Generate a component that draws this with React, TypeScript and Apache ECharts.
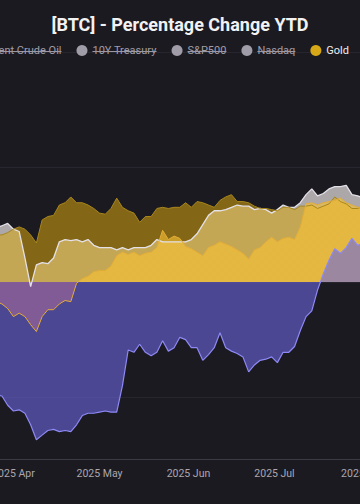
import React, { useEffect, useRef } from 'react';
import * as echarts from 'echarts';

// Sample dates (every second day)
const dates = [
  '2025-03-26','2025-03-28','2025-03-30','2025-04-01','2025-04-03','2025-04-05','2025-04-07','2025-04-09','2025-04-11','2025-04-13',
  '2025-04-15','2025-04-17','2025-04-19','2025-04-21','2025-04-23','2025-04-25','2025-04-27','2025-04-29','2025-05-01','2025-05-03',
  '2025-05-05','2025-05-07','2025-05-09','2025-05-11','2025-05-13','2025-05-15','2025-05-17','2025-05-19','2025-05-21','2025-05-23',
  '2025-05-25','2025-05-27','2025-05-29','2025-05-31','2025-06-02','2025-06-04','2025-06-06','2025-06-08','2025-06-10','2025-06-12',
  '2025-06-14','2025-06-16','2025-06-18','2025-06-20','2025-06-22','2025-06-24','2025-06-26','2025-06-28','2025-06-30','2025-07-02',
  '2025-07-04','2025-07-06','2025-07-08','2025-07-10','2025-07-12','2025-07-14','2025-07-16','2025-07-18','2025-07-20','2025-07-22',
  '2025-07-24','2025-07-26','2025-07-28','2025-07-30','2025-08-01',
];

// Percentage change YTD (%)
const ethValues = [
  -39.2,-39.6,-42.8,-44.8,-44.4,-45.6,-49.6,-54.8,-53.2,-51.6,
  -51.2,-52.0,-51.6,-52.0,-49.6,-46.4,-45.6,-45.6,-45.2,-44.8,
  -45.2,-45.2,-36.0,-23.6,-24.4,-21.6,-24.4,-25.6,-24.4,-20.4,
  -24.0,-22.8,-19.2,-20.0,-22.8,-22.8,-27.2,-25.2,-22.8,-17.6,
  -22.8,-24.0,-24.8,-26.0,-31.2,-28.8,-27.2,-26.8,-26.0,-28.0,
  -24.4,-24.4,-22.4,-16.8,-12.0,-10.0,-2.8,2.8,7.6,11.6,
  10.0,12.0,15.2,12.8,13.6,
];
const btcValues = [
  -6.8,-7.6,-9.2,-12.0,-10.8,-12.0,-14.8,-17.2,-12.0,-9.6,
  -9.6,-7.6,-6.4,-6.8,-0.4,1.2,2.0,3.6,4.0,4.0,
  5.6,9.2,10.4,9.6,10.4,9.2,10.0,10.4,12.0,18.0,
  14.8,16.0,15.2,12.4,11.6,10.4,9.2,12.0,12.8,14.0,
  13.2,12.4,11.2,10.0,8.0,11.2,12.0,14.0,15.6,14.0,
  15.2,15.6,14.8,19.2,27.2,27.6,26.8,27.6,28.0,28.4,
  29.2,27.6,26.8,26.0,26.0,
];
const goldValues = [
  16.4,16.4,17.2,18.4,19.2,18.4,16.4,13.6,21.6,22.8,
  23.2,26.8,27.6,29.6,27.6,27.6,26.8,25.6,24.0,23.6,
  25.6,29.2,26.0,24.8,24.0,20.8,22.8,22.8,25.6,26.0,
  25.6,26.0,26.0,27.6,26.0,28.0,27.6,26.8,26.0,28.4,
  29.6,30.4,28.0,28.0,27.6,26.4,25.6,25.6,25.2,24.8,
  26.0,26.0,25.2,26.4,26.4,26.8,25.6,26.4,27.2,29.6,
  28.0,27.2,25.6,25.6,26.4,
];
const silverValues = [
  18.8,19.6,20.4,18.4,17.6,8.4,-1.6,6.0,6.8,6.4,
  8.4,14.0,14.8,14.4,14.8,14.0,14.8,12.8,12.0,12.0,
  12.0,11.2,12.0,11.2,12.0,12.0,12.0,12.8,14.8,14.0,
  14.0,14.0,14.0,14.0,14.8,16.8,20.0,23.2,24.8,24.8,
  25.2,26.0,26.8,26.4,26.4,25.2,25.6,25.2,24.0,25.2,
  26.8,26.0,26.0,27.6,30.4,32.4,30.0,30.8,32.4,33.2,
  33.2,33.6,30.4,30.0,29.2,
];

const legendNames = ['BTC', 'ETH', 'Silver', 'Brent Crude Oil', '10Y Treasury', 'S&P500', 'Nasdaq', 'Gold'];
const hiddenNames = ['Brent Crude Oil', '10Y Treasury', 'S&P500', 'Nasdaq'];
const yTickValues = [-40, 0, 40, 80];
const monthNames = ['Jan', 'Feb', 'Mar', 'Apr', 'May', 'Jun', 'Jul', 'Aug', 'Sep', 'Oct', 'Nov', 'Dec'];

const FONT = 'Roboto';
const BG = '#1c1a21';
const CHART_W = 960;
const LEGEND_RIGHT = 306;
const LEGEND_FONT = 11;
const LEGEND_ICON = 11;
const LEGEND_GAP = 15;
const LEGEND_TOP = 40;

export default function App() {
  const ref = useRef<HTMLDivElement>(null);

  useEffect(() => {
    if (!ref.current) return;
    const chart = echarts.init(ref.current, null, { renderer: 'svg' });
    const pairs = (vals: number[]) => dates.map((d, i) => [d, vals[i]]);

    const areaSeries = (id: string, vals: number[], color: string, lineColor: string, lineWidth: number, areaColor: any, areaOpacity: number) => ({
      id,
      name: id,
      type: 'line',
      data: pairs(vals),
      showSymbol: false,
      symbol: 'none',
      color,
      lineStyle: { color: lineColor, width: lineWidth },
      areaStyle: { color: areaColor, opacity: areaOpacity },
      emphasis: { disabled: true },
    });

    // strike-through marks for the switched-off legend entries, aligned with the legend's own layout
    const canvas = document.createElement('canvas');
    const ctx = canvas.getContext('2d')!;
    ctx.font = `${LEGEND_FONT}px ${FONT}`;
    const strikes: any[] = [];
    let rightEdge = CHART_W - LEGEND_RIGHT - 5;
    const strikeY = LEGEND_TOP + 5 + LEGEND_ICON / 2 + 1;
    for (let i = legendNames.length - 1; i >= 0; i--) {
      const name = legendNames[i];
      const tw = ctx.measureText(name).width;
      const itemW = LEGEND_ICON + 5 + tw;
      const start = rightEdge - itemW;
      if (hiddenNames.includes(name)) {
        strikes.push({
          type: 'line',
          silent: true,
          shape: { x1: start + LEGEND_ICON + 5, y1: strikeY, x2: rightEdge, y2: strikeY },
          style: { stroke: '#9a97a2', lineWidth: 1 },
          z: 100,
        });
      }
      rightEdge = start - LEGEND_GAP;
    }

    const selected: Record<string, boolean> = {};
    hiddenNames.forEach((n) => (selected[n] = false));

    chart.setOption({
      animation: false,
      backgroundColor: BG,
      textStyle: { fontFamily: FONT },
      title: {
        text: '[BTC] - Percentage Change YTD',
        left: 'center',
        top: 10,
        textStyle: { color: '#f2f2f4', fontSize: 18, fontWeight: 'bold', fontFamily: FONT },
      },
      legend: {
        data: legendNames,
        right: LEGEND_RIGHT,
        top: LEGEND_TOP,
        icon: 'circle',
        itemWidth: LEGEND_ICON,
        itemHeight: LEGEND_ICON,
        itemGap: LEGEND_GAP,
        selected,
        inactiveColor: '#a09da8',
        textStyle: { color: '#ececee', fontSize: LEGEND_FONT, fontFamily: FONT },
      },
      grid: { left: 224.5, right: 210.5, top: 52, bottom: 45 },
      xAxis: {
        type: 'time',
        min: '2025-03-01',
        max: '2025-08-31',
        minInterval: 32 * 86400000,
        axisLine: { onZero: false, lineStyle: { color: '#3b3941', width: 1 } },
        axisTick: { show: false },
        splitLine: { show: false },
        axisLabel: {
          color: '#aaa7b0',
          fontSize: 10.5,
          fontFamily: FONT,
          margin: 9,
          formatter: (v: number) => {
            const d = new Date(v);
            return `${d.getFullYear()} ${monthNames[d.getMonth()]}`;
          },
        },
      },
      yAxis: {
        type: 'value',
        min: -61.5,
        max: 80,
        axisLine: { show: false },
        axisTick: { show: false, customValues: yTickValues },
        axisLabel: { color: '#aaa7b0', fontSize: 11, customValues: yTickValues, formatter: '{value}%' },
        splitLine: { show: true, lineStyle: { color: '#27252d', width: 1 } },
      },
      series: [
        areaSeries('Silver', silverValues, '#c9c5d0', '#e4e0e8', 1.3, '#aca7a8', 1),
        areaSeries('Gold', goldValues, '#d6a818', '#a8861c', 1, '#d8a810', 0.55),
        areaSeries('BTC', btcValues, '#f7931a', '#e3ad38', 1, '#f9c333', 0.6),
        areaSeries('ETH', ethValues, '#6a66e0', '#8d89f5', 1.2, '#6a66e0', 0.6),
        ...hiddenNames.map((n) => ({ id: n, name: n, type: 'line', data: [], showSymbol: false })),
      ],
      graphic: strikes,
    });

    // BTC fill: yellow above the zero line, orange below it (zero located through the axis scale)
    const y0 = chart.convertToPixel({ yAxisIndex: 0 }, 0) as number;
    chart.setOption({
      series: [
        {
          id: 'BTC',
          areaStyle: {
            color: new echarts.graphic.LinearGradient(0, y0 - 1, 0, y0 + 1, [
              { offset: 0, color: '#f9c333' },
              { offset: 0.5, color: '#f9c333' },
              { offset: 0.5, color: '#ff6c2d' },
              { offset: 1, color: '#ff6c2d' },
            ], true),
            opacity: 0.6,
          },
        },
      ],
    });

    return () => chart.dispose();
  }, []);

  return (
    <div style={{ position: 'fixed', left: 0, top: 0, width: 360, height: 504, overflow: 'hidden', background: BG }}>
      <div ref={ref} style={{ position: 'absolute', left: -300, top: 0, width: CHART_W, height: 504 }} />
    </div>
  );
}
